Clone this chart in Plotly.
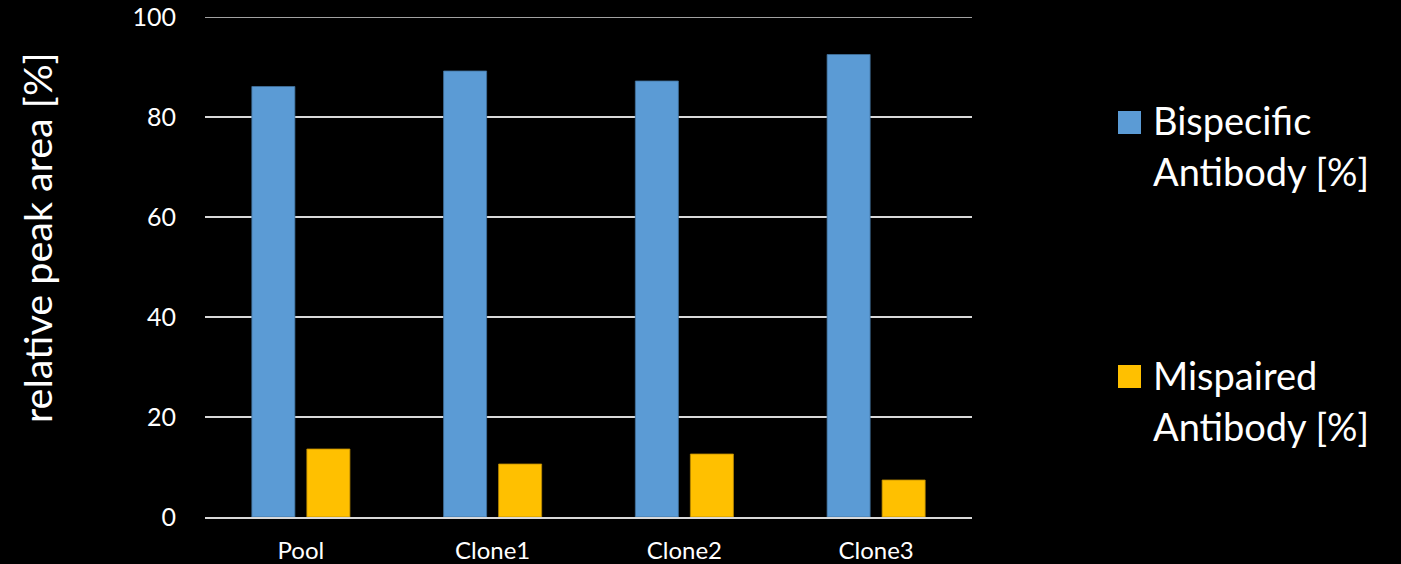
import plotly.graph_objects as go

categories = ["Pool", "Clone1", "Clone2", "Clone3"]
series_names = ["Bispecific<br>Antibody [%]", "Mispaired<br>Antibody [%]"]
bispecific = [86.1, 89.2, 87.2, 92.5]
mispaired = [13.6, 10.6, 12.6, 7.4]
y_ticks = [0, 20, 40, 60, 80, 100]
colors = ["#5b9bd5", "#ffc000"]
edge_colors = ["#41719c", "#bc8c00"]
y_title = "relative peak area [%]"

W, H = 1401, 564
L, R, T, B = 205, 972, 17, 517

fig = go.Figure()
for name, vals, c, ec in zip(series_names, [bispecific, mispaired], colors, edge_colors):
    fig.add_trace(go.Bar(x=categories, y=vals, name=name, marker=dict(color=c, line=dict(color=ec, width=0.8)),
                         showlegend=False))

FONT = "Lato, Calibri, Carlito, sans-serif"

def px2paper(px, py):
    return (px - L) / (R - L), (B - py) / (B - T)

# manual legend
legend_rows = [(122.5, 120, 0), (376.5, 375, 1)]
annotations = []
shapes = []
for cy, ty, i in legend_rows:
    x0, y0 = px2paper(1118, cy - 11.5)
    x1, y1 = px2paper(1141, cy + 11.5)
    shapes.append(dict(type="rect", xref="paper", yref="paper", x0=x0, x1=x1, y0=y1, y1=y0,
                       fillcolor=colors[i], line=dict(width=0)))
    lines = series_names[i].split("<br>")
    for k, t in enumerate(lines):
        ax, ay = px2paper(1151, ty + k * 51)
        annotations.append(dict(text=t, xref="paper", yref="paper", x=ax, y=ay, xanchor="left",
                                yanchor="middle", showarrow=False,
                                font=dict(family=FONT, size=38, color="white")))

# y-axis title
tx, ty = px2paper(37, 238)
annotations.append(dict(text=y_title, xref="paper", yref="paper", x=tx, y=ty, xanchor="center",
                        yanchor="middle", textangle=-90, showarrow=False,
                        font=dict(family=FONT, size=39.5, color="white")))

# top gridline at the range edge
shapes.append(dict(type="line", xref="paper", yref="y", x0=0, x1=1, y0=y_ticks[-1], y1=y_ticks[-1],
                   line=dict(color="#d9d9d9", width=1.5), layer="below"))

fig.update_layout(
    width=W, height=H,
    paper_bgcolor="black", plot_bgcolor="black",
    margin=dict(l=L, r=W - R, t=T, b=H - B, pad=0),
    barmode="group", bargap=0.426, bargroupgap=0.218,
    font=dict(family=FONT, color="white", size=24),
    shapes=shapes, annotations=annotations,
    xaxis=dict(showgrid=False, showline=True, linecolor="#d9d9d9", linewidth=2, automargin=False,
               tickfont=dict(size=24), ticks="outside", ticklen=11, tickcolor="black"),
    yaxis=dict(range=[0, 100], tickvals=y_ticks, showgrid=True, gridcolor="#d9d9d9", gridwidth=1.5,
               zeroline=False, showline=False, ticks="outside", ticklen=23, tickcolor="black",
               automargin=False, tickfont=dict(size=25)),
)

fig.write_html("out.html")
